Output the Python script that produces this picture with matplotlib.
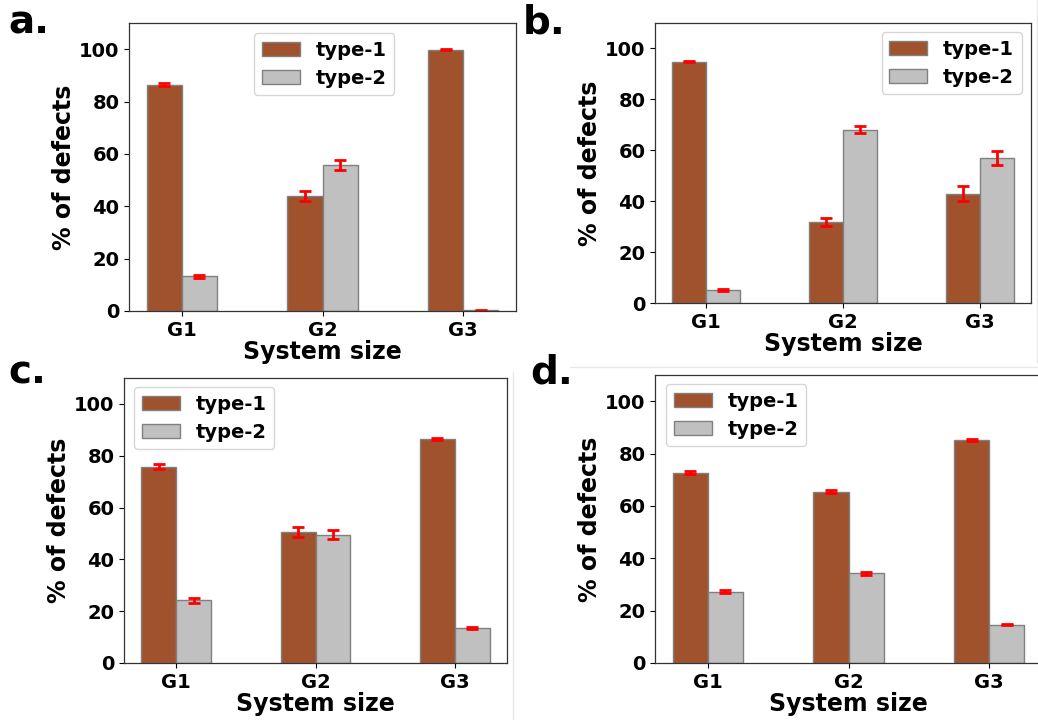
import matplotlib
matplotlib.use("Agg")
import matplotlib.pyplot as plt
from matplotlib.lines import Line2D
import numpy as np

# ---- data ---------------------------------------------------------------
groups = ["G1", "G2", "G3"]
series = ["type-1", "type-2"]

a_type1 = [86.5, 44.1, 99.7]
a_type2 = [13.3, 55.8, 0.25]
a_err1 = [0.75, 1.9, 0.2]
a_err2 = [0.6, 1.85, 0.1]

b_type1 = [94.8, 31.8, 42.9]
b_type2 = [5.1, 68.0, 57.0]
b_err1 = [0.3, 1.4, 3.0]
b_err2 = [0.3, 1.4, 2.9]

c_type1 = [75.8, 50.5, 86.5]
c_type2 = [24.2, 49.5, 13.5]
c_err1 = [0.9, 1.8, 0.3]
c_err2 = [0.85, 1.7, 0.3]

d_type1 = [72.7, 65.4, 85.1]
d_type2 = [27.2, 34.3, 14.7]
d_err1 = [0.6, 0.5, 0.3]
d_err2 = [0.5, 0.6, 0.2]

COL1 = "#a0522d"   # sienna
COL2 = "#c0c0c0"   # silver

W, H = 1038, 720
fig = plt.figure(figsize=(W / 100, H / 100), dpi=100)
plt.rcParams["font.weight"] = "bold"


def px_axes(left, top, right, bottom):
    return fig.add_axes([left / W, 1 - bottom / H, (right - left) / W, (bottom - top) / H])


def panel(ax, v1, v2, e1, e2, leg_loc, leg_anchor):
    x = np.arange(len(groups))
    w = 0.25
    ax.bar(x, v1, w, align="edge", color=COL1, edgecolor="grey", linewidth=1,
           label=series[0])
    ax.bar(x + w, v2, w, align="edge", color=COL2, edgecolor="grey", linewidth=1,
           label=series[1])
    ekw = dict(fmt="none", ecolor="red", elinewidth=2, capsize=4.5, capthick=2)
    ax.errorbar(x + w / 2, v1, yerr=e1, **ekw)
    ax.errorbar(x + 1.5 * w, v2, yerr=e2, **ekw)
    ax.set_xticks(x + w)
    ax.set_xticklabels(groups, fontsize=14, fontweight="bold")
    ax.set_ylim(0, 110)
    ax.set_yticks([0, 20, 40, 60, 80, 100])
    ax.tick_params(axis="y", labelsize=14)
    for t in ax.get_yticklabels():
        t.set_fontweight("bold")
    ax.set_xlim(-0.375 + w, 2.375 + w)
    ax.set_xlabel("System size", fontsize=17, fontweight="bold", labelpad=0)
    ax.set_ylabel("% of defects", fontsize=17, fontweight="bold", labelpad=2)
    for s in ax.spines.values():
        s.set_color("#333333")
        s.set_linewidth(0.9)
    ax.legend(loc=leg_loc, bbox_to_anchor=leg_anchor, bbox_transform=fig.transFigure,
              prop=dict(size=14, weight="bold"), handlelength=1.95, handleheight=0.7,
              handletextpad=0.82, labelspacing=0.45, borderpad=0.4, borderaxespad=0)


ax_a = px_axes(129, 23, 516, 311)
panel(ax_a, a_type1, a_type2, a_err1, a_err2, "upper left", (254 / W, 1 - 33 / H))
ax_b = px_axes(655, 23, 1031, 303)
panel(ax_b, b_type1, b_type2, b_err1, b_err2, "upper right", (1022 / W, 1 - 32 / H))
ax_c = px_axes(124, 378, 507, 663)
panel(ax_c, c_type1, c_type2, c_err1, c_err2, "upper left", (134 / W, 1 - 387 / H))
ax_d = px_axes(655, 375, 1042, 663)
panel(ax_d, d_type1, d_type2, d_err1, d_err2, "upper left", (666 / W, 1 - 384 / H))

# panel letters
for lab, (px, py) in zip(["a.", "b.", "c.", "d."],
                         [(8, 22), (523, 22), (8, 372), (530, 372)]):
    fig.text(px / W, 1 - py / H, lab, fontsize=28, fontweight="bold", va="center", ha="left")

# faint borders between the stitched panels
edge = "#e8e8e8"
fig.add_artist(Line2D([1037 / W, 1037 / W], [1, 1 - 362 / H], color=edge, lw=1))
fig.add_artist(Line2D([570 / W, 1], [1 - 367 / H, 1 - 367 / H], color=edge, lw=1))
fig.add_artist(Line2D([513 / W, 513 / W], [1 - 372 / H, 0], color=edge, lw=1))

fig.savefig("out.png", dpi=100)
